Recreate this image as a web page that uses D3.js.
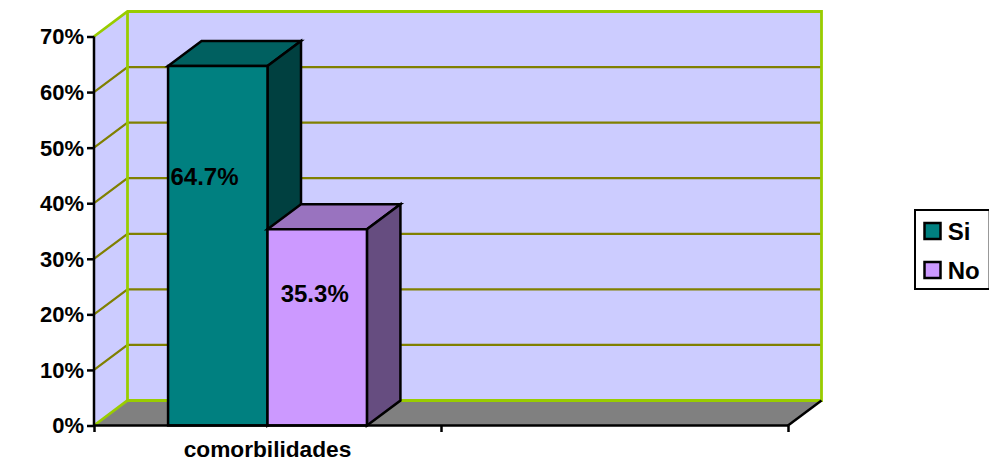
<!DOCTYPE html>
<html><head><meta charset="utf-8">
<script src="https://cdn.jsdelivr.net/npm/d3@7/dist/d3.min.js"></script>
<style>html,body{margin:0;padding:0;background:#fff}svg{display:block}text{font-family:"Liberation Sans",Arial,sans-serif;font-weight:bold;fill:#000}</style>
</head><body><svg id="c" width="989" height="462"></svg>
<script>
const categories = ["comorbilidades", " "];
const seriesNames = ["Si", "No"];
const seriesValues = [64.7, 35.3];
const valueLabels = ["64.7%", "35.3%"];
const yTicks = [0, 10, 20, 30, 40, 50, 60, 70];

const svg = d3.select("#c");
const dx = 33.5, dy = -25;
const y = d3.scaleLinear().domain([0, 70]).range([425.5, 36.5]);
const x = d3.scaleBand().domain(categories).range([94, 788]);
const xs = d3.scaleBand().domain(seriesNames).range([0, x.bandwidth()]).paddingOuter(0.745).paddingInner(0);
const front = ["#008080", "#CC99FF"], topC = ["#006060", "#9973BF"], side = ["#004040", "#664D80"];
const wallC = "#CCCCFF", floorC = "#808080", gridC = "#808000", frameC = "#99CC00";
const X0 = x.range()[0], X1 = x.range()[1], Y0 = y(0), Y1 = y(70);
const poly = (pts, fill, stroke, sw) => svg.append("path")
  .attr("d", d3.line()(pts) + "Z").attr("fill", fill).attr("stroke", stroke || "none")
  .attr("stroke-width", sw || 0).attr("stroke-linejoin", "miter");

// walls
poly([[X0, Y0], [X0 + dx, Y0 + dy], [X0 + dx, Y1 + dy], [X0, Y1]], wallC);
poly([[X0 + dx, Y0 + dy], [X1 + dx, Y0 + dy], [X1 + dx, Y1 + dy], [X0 + dx, Y1 + dy]], wallC);
poly([[X0, Y0], [X1, Y0], [X1 + dx, Y0 + dy], [X0 + dx, Y0 + dy]], floorC);

// gridlines
yTicks.filter(t => t > 0 && t < 70).forEach(t => {
  svg.append("polyline").attr("fill", "none").attr("stroke", gridC).attr("stroke-width", 2.2)
    .attr("points", [[X0, y(t)], [X0 + dx, y(t) + dy], [X1 + dx, y(t) + dy]].join(" "));
});
// frame
svg.append("polyline").attr("fill", "none").attr("stroke", frameC).attr("stroke-width", 2.8)
  .attr("points", [[X0, Y1], [X0 + dx, Y1 + dy], [X1 + dx, Y1 + dy], [X1 + dx, Y0 + dy], [X0 + dx, Y0 + dy], [X0, Y0]].join(" "));
svg.append("line").attr("stroke", frameC).attr("stroke-width", 2.8)
  .attr("x1", X0 + dx).attr("x2", X0 + dx).attr("y1", Y1 + dy).attr("y2", Y0 + dy);
svg.append("line").attr("stroke", "#000").attr("stroke-width", 2.5)
  .attr("x1", X1).attr("y1", Y0).attr("x2", X1 + dx).attr("y2", Y0 + dy);

// bars
seriesValues.forEach((v, i) => {
  const l = x(categories[0]) + xs(seriesNames[i]), r = l + xs.bandwidth(), t = y(v), b = y(0);
  poly([[l, t], [r, t], [r + dx, t + dy], [l + dx, t + dy]], topC[i], "#000", 2.5);
  poly([[r, t], [r + dx, t + dy], [r + dx, b + dy], [r, b]], side[i], "#000", 2.5);
  poly([[l, t], [r, t], [r, b], [l, b]], front[i], "#000", 2.5);
});
// value labels
seriesValues.forEach((v, i) => {
  const l = x(categories[0]) + xs(seriesNames[i]);
  svg.append("text").attr("x", l + xs.bandwidth() / 2 + (i === 0 ? -13.3 : -2.5))
    .attr("y", i === 0 ? 184.5 : 302).attr("text-anchor", "middle").attr("font-size", 24).text(valueLabels[i]);
});

// axes
const yAxis = d3.axisLeft(y).tickValues(yTicks).tickSize(7).tickPadding(3).tickFormat(d => d + "%");
const gy = svg.append("g").attr("transform", `translate(${X0},0)`).call(yAxis);
const xAxis = d3.axisBottom(d3.scalePoint().domain([0, 1, 2]).range([X0, X1])).tickSize(6.5).tickFormat("");
const gx = svg.append("g").attr("transform", `translate(0,${Y0})`).call(xAxis);
[gy, gx].forEach(g => { g.attr("font-family", null).attr("font-size", null);
  g.selectAll("path,line").attr("stroke", "#000").attr("stroke-width", 2.5);
  g.select(".domain").attr("d", g === gy ? `M0,${Y1}V${Y0}` : `M${X0},0H${X1}`); });
gy.selectAll("text").attr("font-size", 22).attr("dy", "0.34em");
svg.append("text").attr("x", x(categories[0]) + x.bandwidth() / 2).attr("y", 457)
  .attr("text-anchor", "middle").attr("font-size", 22.7).text(categories[0]);

// legend
svg.append("rect").attr("x", 915).attr("y", 210).attr("width", 74.6).attr("height", 79)
  .attr("fill", "#fff").attr("stroke", "#000").attr("stroke-width", 2);
seriesNames.forEach((n, i) => {
  const cy = 231 + i * 39;
  svg.append("rect").attr("x", 924.5).attr("y", cy - 8).attr("width", 16).attr("height", 16)
    .attr("fill", front[i]).attr("stroke", "#000").attr("stroke-width", 2.5);
  svg.append("text").attr("x", 947.7).attr("y", cy + 8.7).attr("font-size", 24).text(n);
});
</script></body></html>
